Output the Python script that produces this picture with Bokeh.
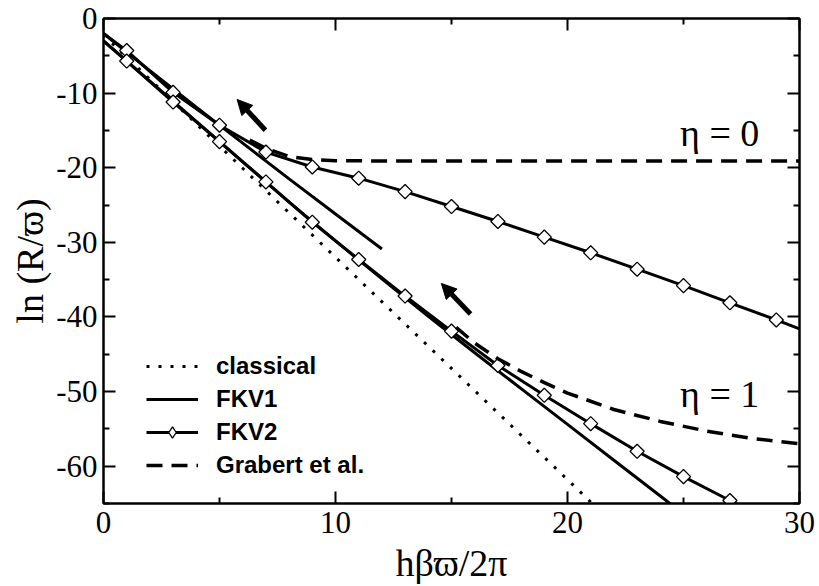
from bokeh.plotting import figure
from bokeh.models import (FixedTicker, LinearAxis, Legend, LegendItem, Label,
                          Arrow, NormalHead, ColumnDataSource, Range1d)
from bokeh.embed import file_html
from bokeh.resources import INLINE

# ---------------- data ----------------
classical_x = [0, 5, 10, 15, 20, 22]
classical_y = [-2.2, -17.1, -32.0, -46.9, -61.8, -67.8]

fkv1_eta0_x = [0, 2, 4, 6, 8, 10, 12]
fkv1_eta0_y = [-2.0, -7.0, -11.9, -16.7, -21.5, -26.2, -30.9]

fkv1_eta1_x = [0, 2, 4, 6, 8, 10, 12, 14, 16, 18, 20, 22, 24, 25]
fkv1_eta1_y = [-3.0, -8.4, -13.8, -19.2, -24.6, -29.8, -34.9, -39.9, -44.8,
               -49.6, -54.4, -59.2, -64.0, -66.4]

fkv2_eta0_x = [0, 1, 3, 5, 7, 9, 11, 13, 15, 17, 19, 21, 23, 25, 27, 29, 30]
fkv2_eta0_y = [-2.0, -4.3, -9.9, -14.3, -17.9, -19.9, -21.4, -23.2, -25.2,
               -27.2, -29.3, -31.4, -33.6, -35.8, -38.1, -40.4, -41.6]

fkv2_eta1_x = [0, 1, 3, 5, 7, 9, 11, 13, 15, 17, 19, 21, 23, 25, 27, 29]
fkv2_eta1_y = [-3.0, -5.7, -11.2, -16.5, -21.9, -27.3, -32.3, -37.2, -41.9,
               -46.5, -50.5, -54.3, -58.0, -61.4, -64.6, -67.8]

grabert_eta0_x = [6.3, 7, 8, 9, 10, 12, 15, 20, 25, 30]
grabert_eta0_y = [-16.3, -17.4, -18.5, -18.9, -19.05, -19.1, -19.1, -19.1, -19.1, -19.1]

grabert_eta1_x = [15.2, 16, 17, 18, 19, 20, 22, 24, 26, 28, 30]
grabert_eta1_y = [-41.4, -43.5, -45.6, -47.3, -48.8, -50.2, -52.4, -54.0, -55.3, -56.3, -57.0]

arrow_tip_x = [5.76, 14.56]
arrow_tip_y = [-10.85, -35.5]
arrow_tail_x = [6.98, 15.82]
arrow_tail_y = [-14.97, -39.6]

eta_labels = ["\u03b7 = 0", "\u03b7 = 1"]
eta_label_x = [24.85, 24.85]
eta_label_y = [-15.3, -50.3]

x_ticks = [0, 10, 20, 30]
x_minor = [5, 15, 25]
x_tick_labels = ["0", "10", "20", "30"]
y_ticks = [0, -10, -20, -30, -40, -50, -60]
y_minor = [-5, -15, -25, -35, -45, -55, -65]
y_tick_labels = ["0", "-10", "-20", "-30", "-40", "-50", "-60"]

x_title = "h\u03b2\u03d6/2\u03c0"
y_title = "ln (R/\u03d6)"
legend_names = ["classical", "FKV1", "FKV2", "Grabert et al."]

# ---------------- figure ----------------
SERIF = "Liberation Serif"
p = figure(width=819, height=586, x_range=Range1d(0, 30), y_range=Range1d(-65, 0),
           output_backend="svg", toolbar_location=None,
           min_border_left=103, min_border_right=20, min_border_top=18, min_border_bottom=81)
p.xgrid.visible = False
p.ygrid.visible = False
p.outline_line_color = "black"
p.outline_line_width = 2
p.background_fill_color = "white"
p.border_fill_color = "white"

def style_axis(ax, ticks, minor, labels, show_labels):
    ax.ticker = FixedTicker(ticks=ticks, minor_ticks=minor)
    ax.axis_line_width = 2
    ax.major_tick_line_width = 2
    ax.minor_tick_line_width = 2
    ax.major_tick_in = 12
    ax.major_tick_out = 0
    ax.minor_tick_in = 6
    ax.minor_tick_out = 0
    if show_labels:
        ax.major_label_overrides = {t: l for t, l in zip(ticks, labels)}
        ax.major_label_text_font = SERIF
        ax.major_label_text_font_size = "31px"
        ax.major_label_text_color = "black"
    else:
        ax.major_label_overrides = {t: "" for t in ticks}
        ax.major_label_text_font_size = "0px"
        ax.major_label_standoff = 0

style_axis(p.xaxis[0], x_ticks, x_minor, x_tick_labels, True)
style_axis(p.yaxis[0], y_ticks, y_minor, y_tick_labels, True)
p.xaxis[0].major_label_standoff = 8
p.yaxis[0].major_label_standoff = 6
p.xaxis[0].axis_label = x_title
p.yaxis[0].axis_label = y_title
for ax in (p.xaxis[0], p.yaxis[0]):
    ax.axis_label_text_font = SERIF
    ax.axis_label_text_font_size = "38px"
    ax.axis_label_text_font_style = "normal"
    ax.axis_label_text_color = "black"
p.xaxis[0].axis_label_standoff = 6
p.yaxis[0].axis_label_standoff = 2

top_ax = LinearAxis()
right_ax = LinearAxis()
style_axis(top_ax, x_ticks, x_minor, x_tick_labels, False)
style_axis(right_ax, y_ticks, y_minor, y_tick_labels, False)
p.add_layout(top_ax, "above")
p.add_layout(right_ax, "right")

# ---------------- series ----------------
LW = 3
r_class = p.line(classical_x, classical_y, line_color="black", line_width=3, line_dash="3 9")
r_fkv1a = p.line(fkv1_eta0_x, fkv1_eta0_y, line_color="black", line_width=LW)
r_fkv1b = p.line(fkv1_eta1_x, fkv1_eta1_y, line_color="black", line_width=LW)
r_fkv2a = p.line(fkv2_eta0_x, fkv2_eta0_y, line_color="black", line_width=LW)
r_fkv2b = p.line(fkv2_eta1_x, fkv2_eta1_y, line_color="black", line_width=LW)
r_m2a = p.scatter(fkv2_eta0_x[1:-1], fkv2_eta0_y[1:-1], marker="square", angle=0.785398,
                  size=10, fill_color="white", line_color="black", line_width=1.3)
r_m2b = p.scatter(fkv2_eta1_x[1:], fkv2_eta1_y[1:], marker="square", angle=0.785398,
                  size=10, fill_color="white", line_color="black", line_width=1.3)
r_gra = p.line(grabert_eta0_x, grabert_eta0_y, line_color="black", line_width=3.5, line_dash="16 9")
r_grb = p.line(grabert_eta1_x, grabert_eta1_y, line_color="black", line_width=3.5, line_dash="16 9")
# legend-only diamond glyph (a NaN point, never drawn in the plot area)
nan = float("nan")
r_leg_d = p.scatter([nan], [nan], marker="diamond", size=17, fill_color="white",
                    line_color="black", line_width=1.3)

# arrows
asrc = ColumnDataSource(dict(x0=arrow_tail_x, y0=arrow_tail_y, x1=arrow_tip_x, y1=arrow_tip_y))
p.add_layout(Arrow(source=asrc, x_start="x0", y_start="y0", x_end="x1", y_end="y1",
                   line_color="black", line_width=5,
                   end=NormalHead(size=15, fill_color="black", line_color="black")))

# eta labels
for t, lx, ly in zip(eta_labels, eta_label_x, eta_label_y):
    p.add_layout(Label(x=lx, y=ly, text=t, text_font=SERIF, text_font_size="38px",
                       text_baseline="middle", text_align="left", text_color="black"))

# legend
legend = Legend(items=[
    LegendItem(label=legend_names[0], renderers=[r_class]),
    LegendItem(label=legend_names[1], renderers=[r_fkv1a]),
    LegendItem(label=legend_names[2], renderers=[r_fkv2a, r_leg_d]),
    LegendItem(label=legend_names[3], renderers=[r_gra]),
], location=(43, 24))
legend.label_text_font = "Liberation Sans"
legend.label_text_font_style = "bold"
legend.label_text_font_size = "24px"
legend.label_text_color = "black"
legend.background_fill_alpha = 0
legend.border_line_color = None
legend.glyph_width = 52
legend.glyph_height = 28
legend.label_height = 28
legend.label_standoff = 18
legend.spacing = 5
legend.padding = 5
legend.margin = 0
p.add_layout(legend, "center")

open("out.html", "w").write(file_html(p, INLINE))
